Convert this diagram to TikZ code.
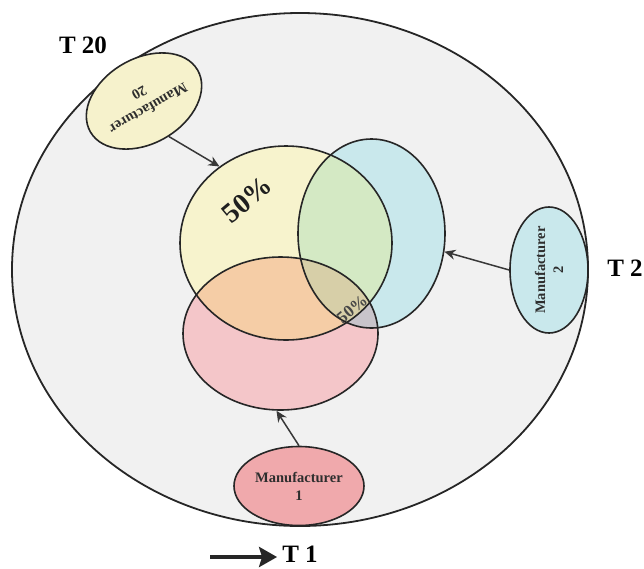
\documentclass[tikz,border=0pt]{standalone}
\usepackage{fontspec}
\setmainfont{Liberation Serif}
\usetikzlibrary{shapes.geometric}
\usetikzlibrary{arrows.meta}
\definecolor{outerbg}{HTML}{F1F1F1}
\definecolor{yelbg}{HTML}{F7F3CD}
\definecolor{blubg}{HTML}{C9E8EC}
\definecolor{redbg}{HTML}{F4C6C9}
\definecolor{ybbg}{HTML}{D4E9C4}
\definecolor{yrbg}{HTML}{F5CDA6}
\definecolor{ybrbg}{HTML}{D7CFA8}
\definecolor{brbg}{HTML}{C8C4CA}
\definecolor{mfone}{HTML}{F0A9AC}
\definecolor{mftwo}{HTML}{C9E8EC}
\definecolor{mftwenty}{HTML}{F6F2CC}
\newcommand{\yelpath}{(286,243) ellipse [x radius=106, y radius=97]}
\newcommand{\blupath}{(371.5,233.5) ellipse [x radius=73.5, y radius=94.5]}
\newcommand{\redpath}{(280.5,333.5) ellipse [x radius=97.5, y radius=76.5]}
\tikzset{pxp/.style={
  x=1pt,
  y=-1pt
}}
\tikzset{venn/.style={
  draw=black!85,
  line width=1.6pt,
  shape=ellipse,
  inner sep=0pt,
}}
\tikzset{mfn/.style={
  venn,
  font=\bfseries\fontsize{14.5}{18}\selectfont,
  text=black!82,
  align=center,
}}
\tikzset{feed/.style={
  draw=black!78,
  line width=1.5pt,
  -{Stealth[length=11pt,width=10pt]}
}}
\tikzset{tlab/.style={font=\bfseries\fontsize{25}{26}\selectfont}}

\begin{document}
\begin{tikzpicture}[pxp]
    \useasboundingbox (0,0) rectangle (644,568);

    %% Outer market

    \node[venn, fill=outerbg, line width=1.8pt,
      minimum width=576, minimum height=513] (market) at (300,269.5) {};

    %% Overlapping shares

    % Fills
    \fill[yelbg] \yelpath;
    \fill[blubg] \blupath;
    \fill[redbg] \redpath;
    \begin{scope}
      \clip \yelpath;
      \fill[ybbg] \blupath;
      \fill[yrbg] \redpath;
      \clip \blupath;
      \fill[ybrbg] \redpath;
    \end{scope}
    \begin{scope}
      \clip \blupath;
      \clip \redpath;
      \fill[brbg, even odd rule] \yelpath (0,0) rectangle (644,568);
    \end{scope}
    \node[rotate=40, text=black!72, font=\bfseries\fontsize{17}{17}\selectfont]
      (smallshare) at (352,309) {50\%};

    % Outlines
    \node[venn, minimum width=212, minimum height=194] (yel) at (286,243) {};
    \node[venn, minimum width=147, minimum height=189] (blu) at (371.5,233.5) {};
    \node[venn, minimum width=195, minimum height=153] (red) at (280.5,333.5) {};
    \node[rotate=40, text=black!88, font=\bfseries\fontsize{28}{28}\selectfont]
      (bigshare) at (247,200) {50\%};

    %% Manufacturers

    \node[mfn, fill=mfone, minimum width=130, minimum height=79]
      (mf1) at (299,486) {Manufacturer\\1};
    \node[mfn, fill=mftwo, rotate=90, minimum width=126, minimum height=78]
      (mf2) at (549,270) {Manufacturer\\2};
    \node[mfn, fill=mftwenty, rotate=210, minimum width=120, minimum height=85]
      (mf20) at (144,101) {Manufacturer\\20};

    \draw[feed] (mf1.90) -- (red.-93);
    \draw[feed] (mf2.90) -- (blu.-14);
    \draw[feed] (mf20.95) -- (yel.131);

    %% Time labels

    \node[tlab] (t20) at (83,45) {T 20};
    \node[tlab] (t2) at (625,268) {T 2};
    \node[tlab, inner sep=5pt] (t1) at (300,554) {T 1};
    \coordinate (t1tail) at (210,557);
    \draw[line width=4.5pt, draw=black!85,
      -{Stealth[length=18pt,width=20pt,inset=3pt]}] (t1tail) -- (t1.west |- t1tail);

  \end{tikzpicture}
\end{document}
